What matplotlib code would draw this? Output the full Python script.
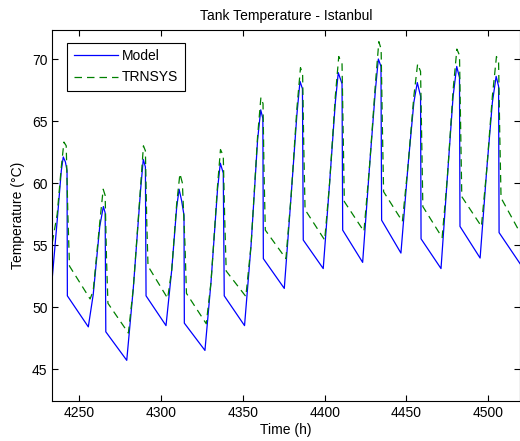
import matplotlib
matplotlib.use("Agg")
import matplotlib.pyplot as plt

plt.rcParams['font.family'] = ['Liberation Sans', 'DejaVu Sans']

# Model (blue) - corner points
model_t = [4233.5, 4236.5, 4239.0, 4240.2, 4241.5, 4242.5, 4242.7, 4255.5,
           4258.5, 4262.5, 4264.7, 4265.8, 4266.2, 4279.0,
           4283.0, 4287.5, 4289.1, 4290.4, 4290.8, 4303.0,
           4306.5, 4309.5, 4311.0, 4312.5, 4314.0, 4314.2, 4326.8,
           4330.5, 4334.5, 4336.2, 4338.0, 4338.6, 4351.0,
           4355.0, 4359.0, 4360.9, 4362.2, 4362.5, 4375.3,
           4379.5, 4383.0, 4384.9, 4386.4, 4386.9, 4399.1,
           4403.0, 4406.5, 4408.3, 4410.6, 4411.0, 4423.2,
           4427.5, 4431.0, 4432.8, 4434.4, 4434.8, 4446.6,
           4451.0, 4454.5, 4456.6, 4458.6, 4458.9, 4471.1,
           4475.0, 4478.5, 4480.7, 4482.4, 4482.7, 4495.0,
           4499.0, 4502.5, 4504.8, 4506.3, 4506.6, 4519.4]
model_T = [52.4, 57.0, 61.0, 62.1, 61.7, 61.0, 50.9, 48.4,
           51.0, 56.5, 58.1, 57.6, 48.0, 45.7,
           51.5, 59.5, 61.9, 61.3, 50.9, 48.5,
           53.0, 58.0, 59.5, 58.6, 57.4, 48.7, 46.5,
           52.0, 59.5, 61.6, 60.8, 50.9, 48.5,
           55.0, 63.5, 65.9, 65.2, 53.9, 51.5,
           59.0, 65.5, 68.2, 67.6, 55.4, 53.1,
           60.0, 66.5, 68.9, 68.0, 56.2, 53.6,
           61.5, 67.5, 70.0, 69.4, 57.0, 54.35,
           61.5, 66.5, 68.1, 67.0, 55.5, 53.1,
           60.5, 67.0, 69.4, 68.5, 56.5, 53.95,
           61.0, 66.5, 68.6, 67.8, 56.0, 53.5]

# TRNSYS (green dashed)
trnsys_t = [4233.5, 4236.5, 4239.0, 4240.6, 4242.0, 4243.0, 4244.0, 4256.6,
            4258.5, 4262.5, 4264.6, 4265.8, 4266.6, 4267.5, 4280.0,
            4283.0, 4287.5, 4289.2, 4290.4, 4291.2, 4292.0, 4304.0,
            4306.5, 4309.5, 4311.5, 4313.0, 4314.6, 4315.5, 4327.6,
            4330.5, 4334.5, 4336.3, 4338.0, 4338.8, 4339.8, 4351.8,
            4355.0, 4359.0, 4361.0, 4362.3, 4362.9, 4363.7, 4376.3,
            4379.5, 4383.0, 4385.2, 4386.5, 4387.2, 4388.0, 4400.0,
            4403.0, 4406.5, 4408.6, 4410.6, 4411.3, 4412.0, 4424.0,
            4427.5, 4431.0, 4433.1, 4434.5, 4435.2, 4436.0, 4447.5,
            4451.0, 4454.5, 4456.8, 4458.6, 4459.3, 4460.0, 4471.8,
            4475.0, 4478.5, 4480.8, 4482.4, 4483.1, 4483.8, 4495.8,
            4499.0, 4502.5, 4505.0, 4506.3, 4507.0, 4507.8, 4519.4]
trnsys_T = [55.2, 57.5, 61.3, 63.3, 63.0, 57.5, 53.3, 50.65,
            51.3, 56.8, 59.5, 59.0, 54.0, 50.3, 47.9,
            51.5, 59.8, 63.0, 62.6, 57.0, 53.3, 50.7,
            53.0, 58.3, 60.75, 60.0, 55.0, 51.1, 48.65,
            52.0, 59.8, 62.7, 62.2, 57.5, 52.9, 50.85,
            55.0, 63.8, 66.9, 66.4, 61.0, 56.2, 53.9,
            59.0, 66.0, 69.3, 68.8, 63.0, 57.85, 55.4,
            60.0, 67.0, 70.2, 69.6, 64.0, 58.5, 56.1,
            61.5, 68.0, 71.4, 70.8, 65.0, 59.3, 56.9,
            61.5, 67.0, 69.6, 69.0, 63.5, 58.1, 55.6,
            60.5, 67.5, 70.8, 70.3, 64.5, 58.9, 56.5,
            61.0, 67.0, 70.2, 69.7, 64.0, 58.8, 56.0]

fig = plt.figure(figsize=(5.2, 4.41), dpi=100)
ax = fig.add_axes([0.1006, 0.0907, 0.8985, 0.8413])

ax.plot(model_t, model_T, color=(0, 0, 1), linewidth=0.9, label='Model')
ax.plot(trnsys_t, trnsys_T, color=(0, 0.5, 0), linewidth=0.9,
        linestyle=(0, (6, 4)), label='TRNSYS')

ax.set_xlim(4233.5, 4519.1)
ax.set_ylim(42.42, 72.34)
ax.set_xticks([4250, 4300, 4350, 4400, 4450, 4500])
ax.set_yticks([45, 50, 55, 60, 65, 70])
ax.tick_params(direction='in', length=4, width=0.8, top=True, right=True,
               labelsize=10)
for s in ax.spines.values():
    s.set_linewidth(0.8)

ax.set_title('Tank Temperature - Istanbul', fontsize=10, pad=7)
ax.set_xlabel('Time (h)', fontsize=10, labelpad=2)
ax.set_ylabel('Temperature (°C)', fontsize=10, labelpad=5)

leg = ax.legend(loc='upper left', bbox_to_anchor=(0.032, 0.966),
                borderaxespad=0, fancybox=False, framealpha=1,
                edgecolor='black', fontsize=10, handlelength=3.2,
                handletextpad=0.3, borderpad=0.45, labelspacing=0.55)
leg.get_frame().set_linewidth(0.8)

fig.savefig('out.png', dpi=100)
